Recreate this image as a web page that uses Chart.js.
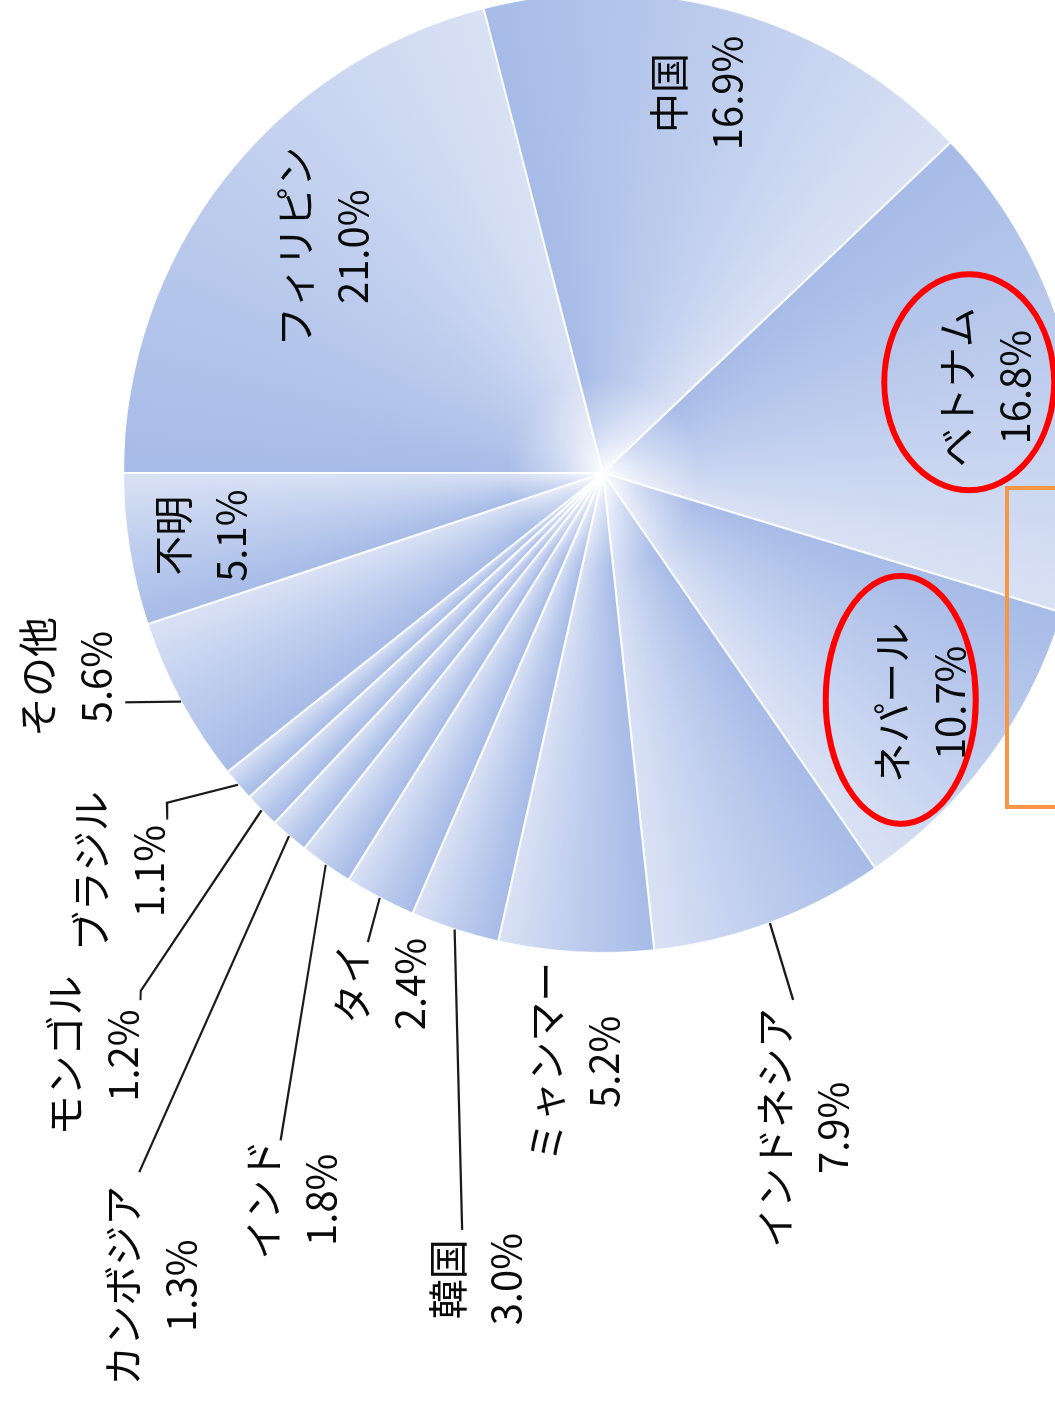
<!DOCTYPE html>
<html>
<head>
<meta charset="utf-8">
<script src="https://cdn.jsdelivr.net/npm/chart.js@4.4.1/dist/chart.umd.min.js"></script>
<style>
  html, body { margin: 0; padding: 0; background: #ffffff; overflow: hidden; }
  #frame { position: absolute; left: 0; top: 0; width: 1055px; height: 1407px; overflow: hidden; background: #fff; }
  /* the chart is drawn upright, then turned 90° counter-clockwise as in the reference */
  #rot { position: absolute; left: 0; top: 1407px; width: 1407px; height: 1055px;
         transform-origin: 0 0; transform: rotate(-90deg); overflow: hidden; }
  #pie { display: block; }
</style>
</head>
<body>
<div id="frame"><div id="rot"><canvas id="pie" width="1430" height="1100"></canvas></div></div>
<script>
// ---- data ----
const countries = ['フィリピン', '中国', 'ベトナム', 'ネパール', 'インドネシア', 'ミャンマー', '韓国',
                   'タイ', 'インド', 'カンボジア', 'モンゴル', 'ブラジル', 'その他', '不明'];
const shares = [21.0, 16.9, 16.8, 10.7, 7.9, 5.2, 3.0, 2.4, 1.8, 1.3, 1.2, 1.1, 5.6, 5.1];
const shareText = shares.map(v => v.toFixed(1) + '%');

// ---- label layout: [radius factor, angle offset (deg) from slice middle] ----
const labelPlace = [[0.749, 1.2], [0.816, -2.0], [0.818, 0.7], [0.817, -0.3], [1.427, 3.3],
                    [1.228, -0.5], [1.70, -9.1], [1.161, -4.2], [1.647, -12.1], [1.937, -11.8],
                    [1.612, -4.2], [1.304, 1.0], [1.195, 7.6], [0.846, 0.3]];
// leader lines: waypoints [radius factor, angle offset] starting from the slice edge
const leaderPaths = [null, null, null, null, [[1.167, 0.5]], null, [[1.604, -7.45]],
                     [[1.093, -1.1]], [[1.544, -9.5]], [[1.748, -7.3]],
                     [[1.446, -3.6], [1.461, -4.1]], [[1.139, 3.4], [1.160, 2.0]],
                     [[1.104, 2.8]], null];
// hand-drawn annotations around two labels
const highlights = [{ name: 'ベトナム', dx: 5, dy: -17, rx: 108, ry: 85 },
                    { name: 'ネパール', dx: 3, dy: -20, rx: 124, ry: 75 }];

const DEG = Math.PI / 180;
const LINE_GAP = 29;

function sliceFill(ctx) {
  const chart = ctx.chart;
  const area = chart.chartArea;
  if (!area || ctx.type !== 'data') return 'rgb(190,204,236)';
  const i = ctx.dataIndex;
  const total = shares.reduce((a, b) => a + b, 0);
  let cum = 0;
  for (let k = 0; k < i; k++) cum += shares[k];
  const start = -Math.PI / 2 + 2 * Math.PI * cum / total;
  const frac = Math.min(shares[i] / total, 1);
  const cx = (area.left + area.right) / 2, cy = (area.top + area.bottom) / 2;
  const g = chart.ctx.createConicGradient(start, cx, cy);
  g.addColorStop(0, 'rgb(166,187,231)');
  g.addColorStop(frac * 0.5, 'rgb(190,205,238)');
  g.addColorStop(frac, 'rgb(217,225,244)');
  return g;
}

const decorPlugin = {
  id: 'decor',
  afterDatasetsDraw(chart) {
    const c = chart.ctx;
    const arcs = chart.getDatasetMeta(0).data;
    const cx = arcs[0].x, cy = arcs[0].y, R = arcs[0].outerRadius;
    c.save();
    // white glow at the centre
    const rg = c.createRadialGradient(cx, cy, 0, cx, cy, R * 0.2);
    rg.addColorStop(0, 'rgba(255,255,255,0.95)');
    rg.addColorStop(0.4, 'rgba(255,255,255,0.45)');
    rg.addColorStop(1, 'rgba(255,255,255,0)');
    c.fillStyle = rg;
    c.beginPath(); c.arc(cx, cy, R * 0.2, 0, Math.PI * 2); c.fill();

    // leader lines
    c.strokeStyle = '#1b1b1b';
    c.lineWidth = 2.2;
    arcs.forEach((arc, i) => {
      const path = leaderPaths[i];
      if (!path) return;
      const mid = (arc.startAngle + arc.endAngle) / 2;
      c.beginPath();
      c.moveTo(cx + R * Math.cos(mid), cy + R * Math.sin(mid));
      path.forEach(([f, off]) => {
        const a = mid + off * DEG;
        c.lineTo(cx + R * f * Math.cos(a), cy + R * f * Math.sin(a));
      });
      c.stroke();
    });

    // labels
    c.font = '40px "Noto Sans CJK JP"';
    c.fillStyle = '#0a0a0a';
    c.textAlign = 'center';
    c.textBaseline = 'middle';
    const pos = [];
    arcs.forEach((arc, i) => {
      const mid = (arc.startAngle + arc.endAngle) / 2;
      const [f, off] = labelPlace[i];
      const a = mid + off * DEG;
      const x = cx + R * f * Math.cos(a), y = cy + R * f * Math.sin(a);
      pos.push([x, y]);
      c.fillText(countries[i], x, y - LINE_GAP);
      c.fillText(shareText[i], x, y + LINE_GAP);
    });

    // annotations: red ellipses round two labels, orange box at the lower edge
    c.strokeStyle = '#ff0000';
    c.lineWidth = 6;
    highlights.forEach(h => {
      const i = countries.indexOf(h.name);
      const [x, y] = pos[i];
      c.beginPath();
      c.ellipse(x + h.dx, y + h.dy, h.rx, h.ry, 0, 0, Math.PI * 2);
      c.stroke();
    });
    c.strokeStyle = '#f79646';
    c.lineWidth = 4;
    c.strokeRect(cx - 334, cy + 404, 319, 120);
    c.restore();
  }
};

function build() {
  new Chart(document.getElementById('pie'), {
    type: 'pie',
    data: {
      labels: countries,
      datasets: [{
        data: shares,
        backgroundColor: sliceFill,
        borderColor: 'rgba(255,255,255,0.92)',
        borderWidth: 2
      }]
    },
    options: {
      responsive: false,
      animation: false,
      events: [],
      layout: { padding: { left: 453, top: 122, right: 15, bottom: 16 } },
      plugins: { legend: { display: false }, tooltip: { enabled: false } }
    },
    plugins: [decorPlugin]
  });
}

if (document.fonts && document.fonts.load) {
  document.fonts.load('40px "Noto Sans CJK JP"', 'フィリピン中国16.9%').then(build, build);
} else {
  build();
}
</script>
</body>
</html>
